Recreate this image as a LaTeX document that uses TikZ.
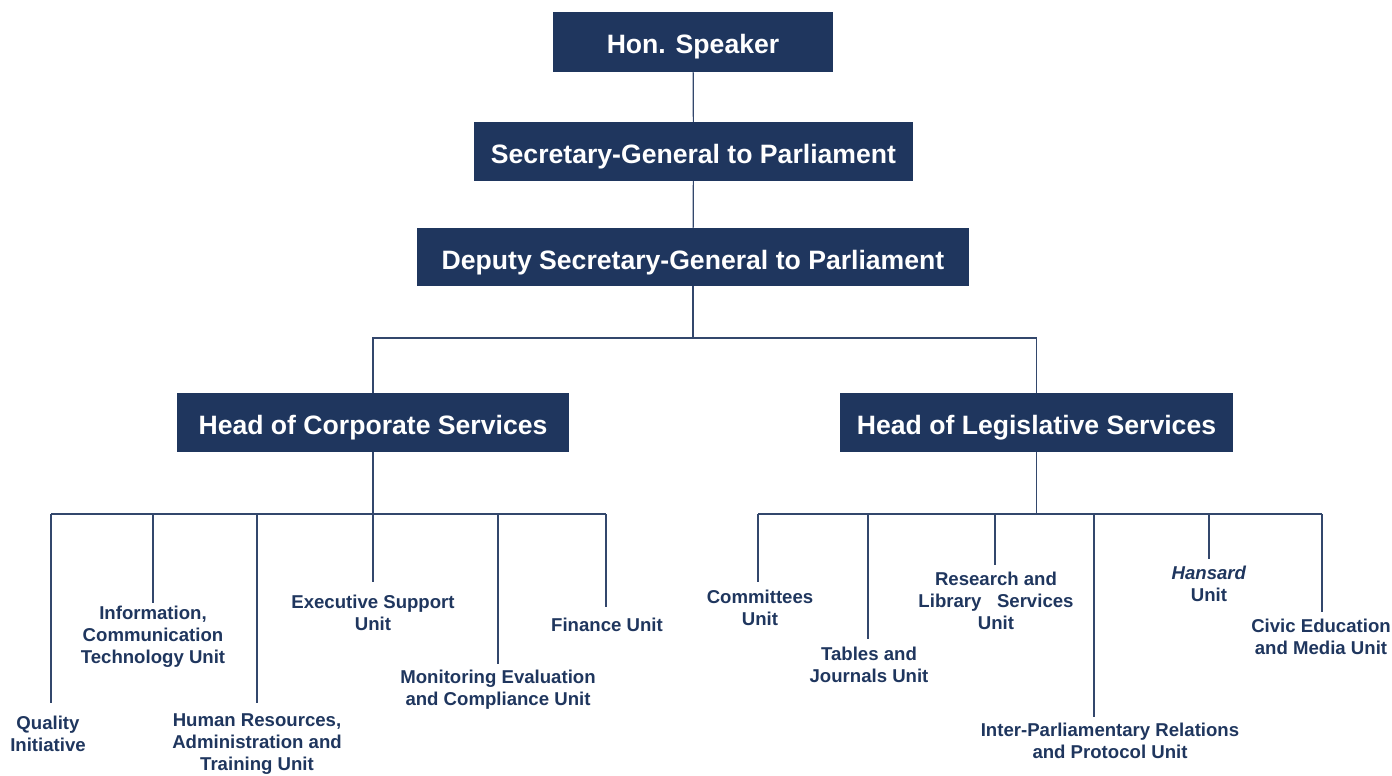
\documentclass[tikz,border=0pt]{standalone}
\usepackage{fontspec}
\setmainfont{Liberation Sans}
\definecolor{navy}{HTML}{1F365E}
\definecolor{linec}{HTML}{33476C}
\begin{document}
\begin{tikzpicture}[x=1pt,y=-1pt,
  box/.style={fill=navy,text=white,inner sep=0pt,font=\fontsize{26.6}{30}\selectfont\bfseries,minimum height=59pt,text height=24pt,text depth=0pt},
  unit/.style={text=navy,inner sep=0pt,align=center,font=\fontsize{18.6}{22}\selectfont\bfseries,yshift=-1.5pt},
  conn/.style={draw=linec,line width=1.2pt}]
\useasboundingbox (0,0) rectangle (1392,776);
% main boxes
\node[box,minimum width=280pt,minimum height=60pt] (hs) at (693,42) {Hon. Speaker};
\node[box,minimum width=439pt] (sg) at (693.5,151.5) {Secretary-General to Parliament};
\node[box,minimum width=552pt,minimum height=58pt] (dsg) at (693,257) {Deputy Secretary-General to Parliament};
\node[box,minimum width=392pt] (corp) at (373,422.5) {Head of Corporate Services};
\node[box,minimum width=393pt] (leg) at (1036.5,422.5) {Head of Legislative Services};
% unit labels
\node[unit] (qi) at (48,732) {Quality\\Initiative};
\node[unit] (ict) at (153,635) {Information,\\Communication\\Technology Unit};
\node[unit] (hr) at (257,743) {Human Resources,\\Administration and\\Training Unit};
\node[unit] (ex) at (373,611) {Executive Support\\Unit};
\node[unit] (me) at (498,688) {Monitoring Evaluation\\and Compliance Unit};
\node[unit] (fin) at (607,623) {Finance Unit};
\node[unit] (com) at (760,606) {Committees\\Unit};
\node[unit] (tab) at (869,663) {Tables and\\Journals Unit};
\node[unit] (res) at (996,599) {Research and\\Library\ \ \ Services\\Unit};
\node[unit] (ipr) at (1110,739) {Inter-Parliamentary Relations\\and Protocol Unit};
\node[unit] (han) at (1209,582.5) {\textit{Hansard}\\Unit};
\node[unit] (civ) at (1321,635) {Civic Education\\and Media Unit};
% coordinates
\coordinate (busT) at (693,338);
\coordinate (cb) at (373,514);
\coordinate (lb) at (1036.5,514);
\coordinate (c1) at (51,514);   \coordinate (e1) at (51,703);
\coordinate (c2) at (153,514);  \coordinate (e2) at (153,603);
\coordinate (c3) at (257,514);  \coordinate (e3) at (257,703);
\coordinate (c4) at (373,514);  \coordinate (e4) at (373,582);
\coordinate (c5) at (498,514);  \coordinate (e5) at (498,664);
\coordinate (c6) at (606,514);  \coordinate (e6) at (606,607);
\coordinate (d1) at (758,514);  \coordinate (f1) at (758,582);
\coordinate (d2) at (868,514);  \coordinate (f2) at (868,639);
\coordinate (d3) at (995,514);  \coordinate (f3) at (995,565);
\coordinate (d4) at (1094,514); \coordinate (f4) at (1094,717);
\coordinate (d5) at (1209,514); \coordinate (f5) at (1209,559);
\coordinate (d6) at (1322,514); \coordinate (f6) at (1322,612);
% connectors
\draw[conn] (hs) -- (sg);
\draw[conn] (sg) -- (dsg);
\draw[conn] (dsg.south) -- (busT);
\draw[conn] (corp.north) |- (busT) -| (leg.north);
\draw[conn] (corp.south) -- (cb);
\draw[conn] (leg.south) -- (lb);
\draw[conn] (c1) -- (c6);
\draw[conn] (d1) -- (d6);
\foreach \i in {1,...,6}{
  \draw[conn] (c\i) -- (e\i);
  \draw[conn] (d\i) -- (f\i);
}
\end{tikzpicture}
\end{document}
